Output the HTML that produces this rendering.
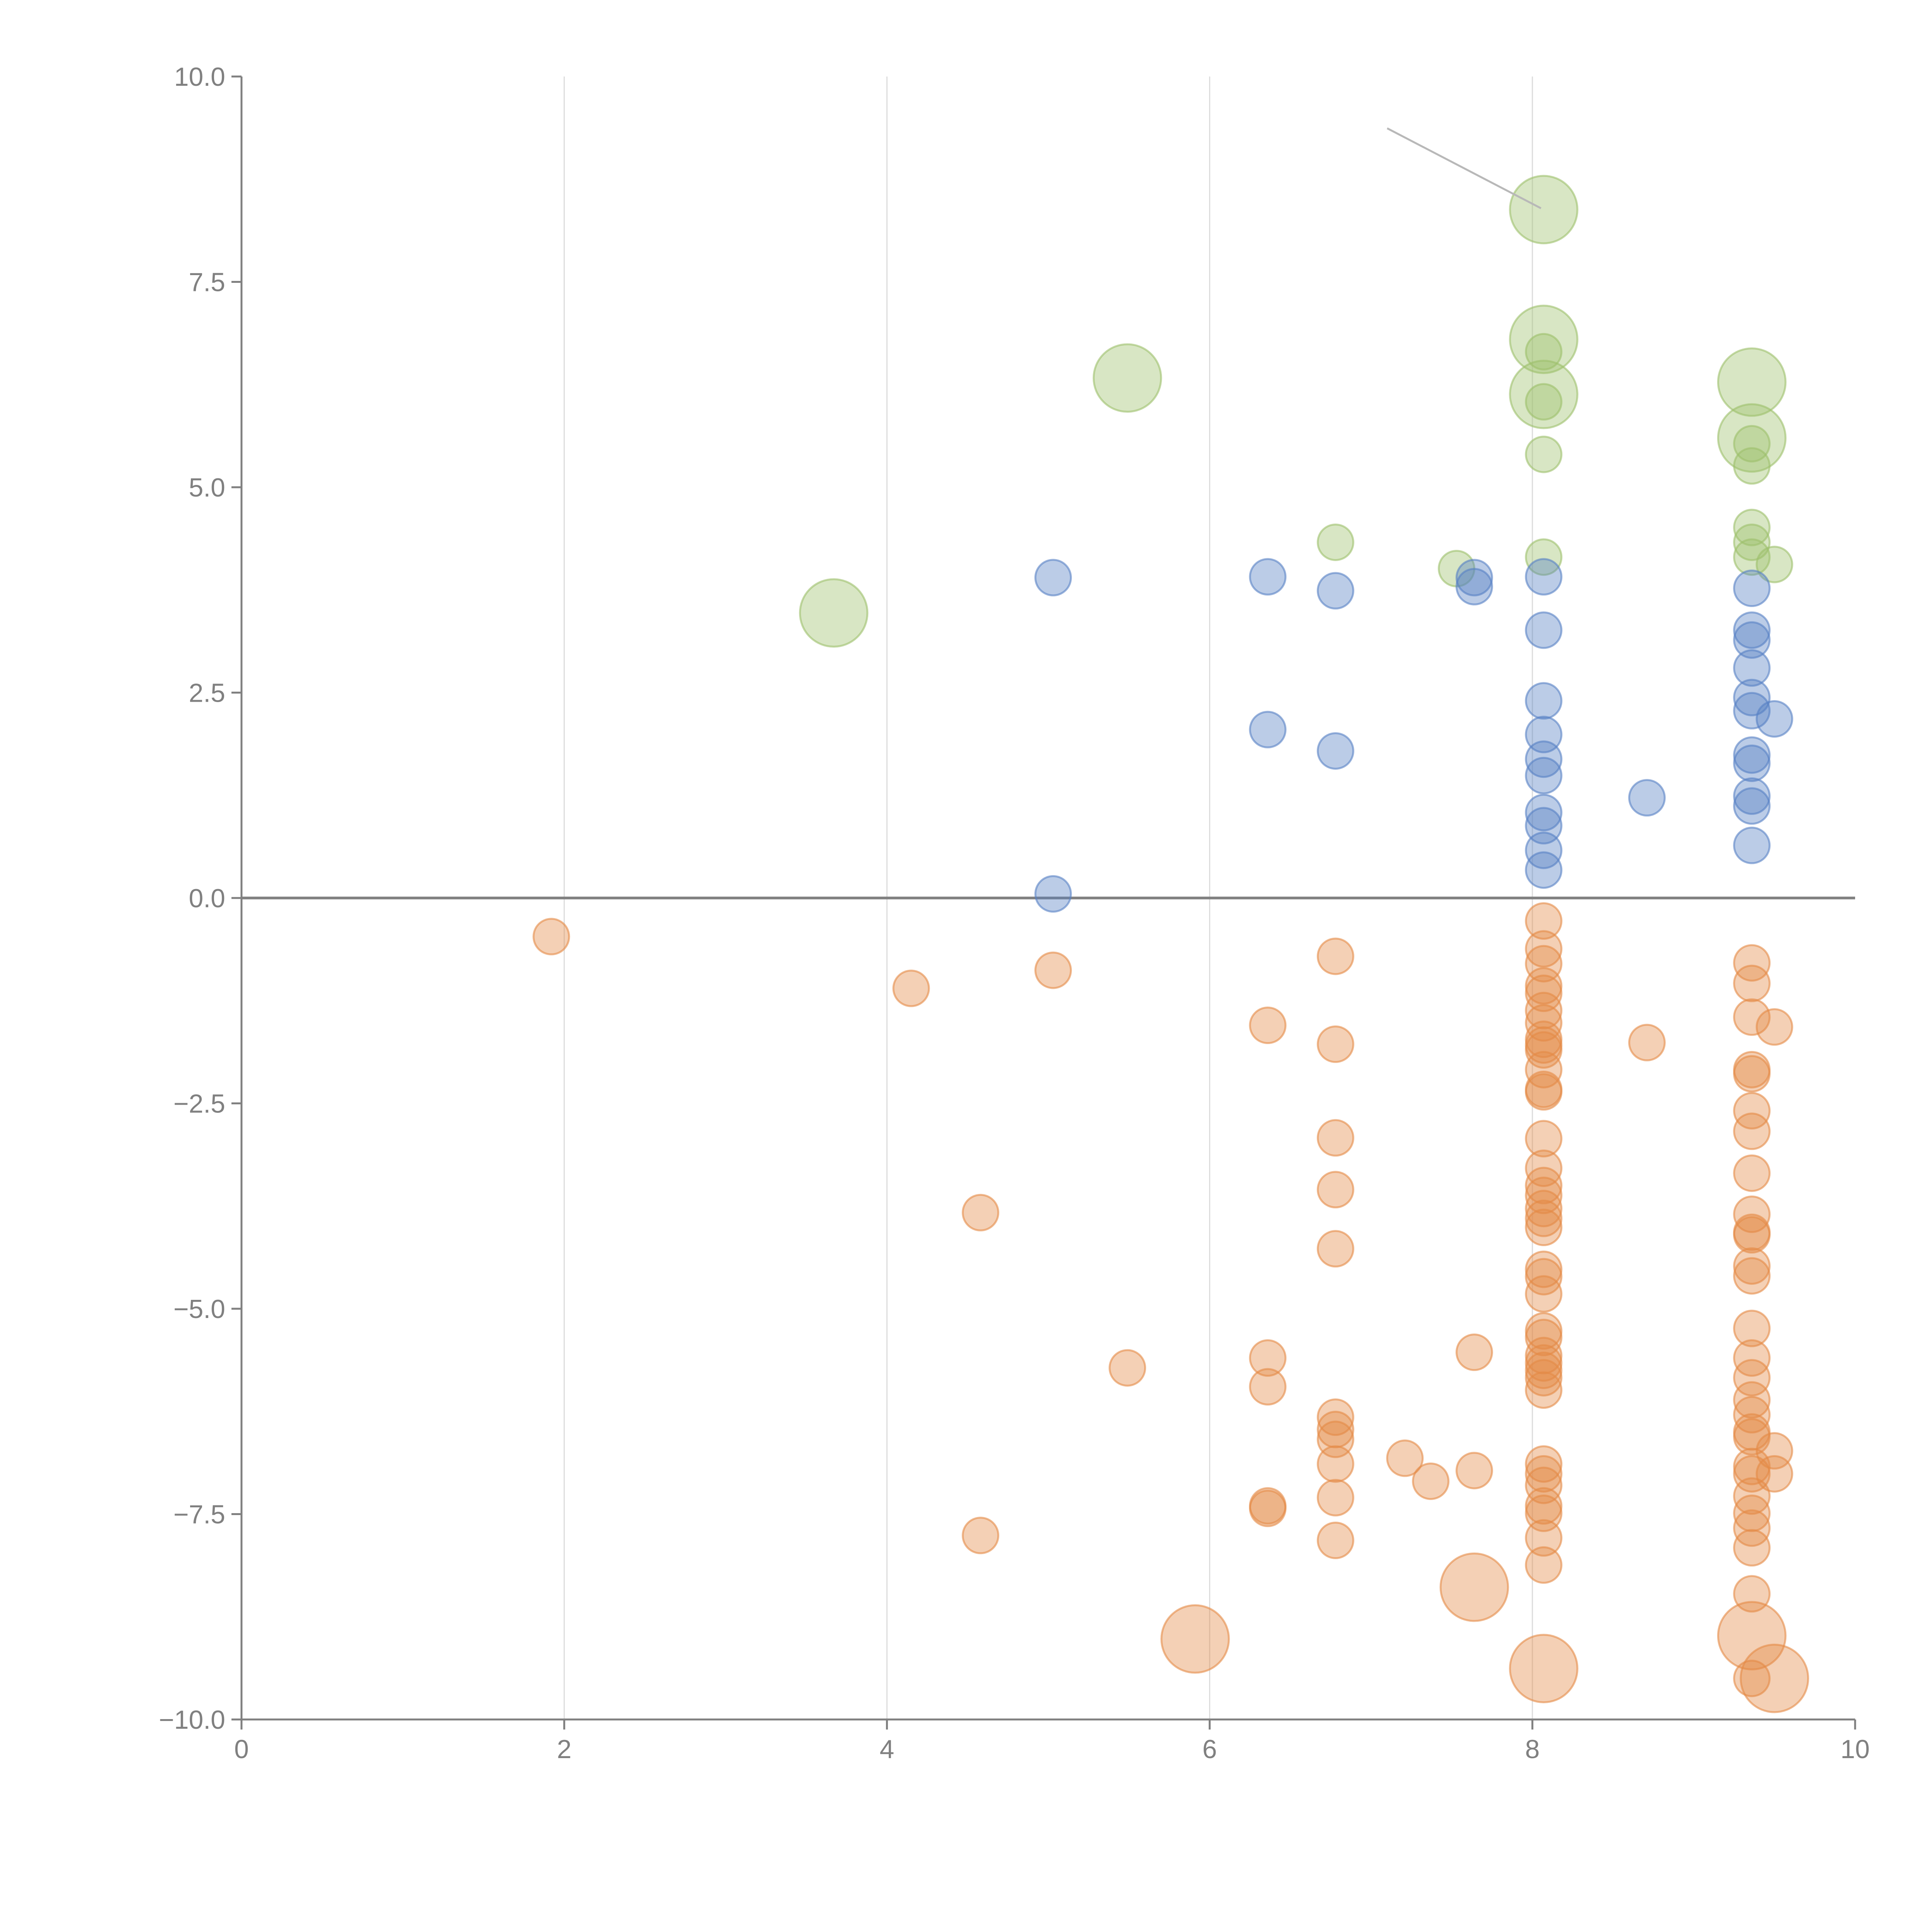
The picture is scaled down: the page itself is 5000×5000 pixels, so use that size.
<!DOCTYPE html>
<html><head><meta charset="utf-8"><style>
html,body{margin:0;padding:0;background:#fff}
svg{display:block}
text{font-family:"Liberation Sans",sans-serif;fill:#808080}
</style></head><body>
<svg id="chart" width="5000" height="5000" viewBox="0 0 5000 5000" xmlns="http://www.w3.org/2000/svg">
<g id="grid"></g>
<g id="axes"></g>
<g id="marks"></g>
</svg>
<script>
const xTicks=[0,2,4,6,8,10];
const yTicks=[10,7.5,5,2.5,0,-2.5,-5,-7.5,-10];
const xTickLabels=["0","2","4","6","8","10"];
const yTickLabels=["10.0","7.5","5.0","2.5","0.0","\u22122.5","\u22125.0","\u22127.5","\u221210.0"];

const greenX=[8.07,8.07,8.07,8.07,8.07,8.07,8.07,5.49,3.67,6.78,7.53,9.36,9.36,9.36,9.36,9.36,9.36,9.50,9.36];
const greenY=[8.38,6.80,6.13,6.65,6.04,5.40,4.15,6.33,3.47,4.33,4.01,6.28,5.60,5.26,4.51,4.33,4.15,4.06,5.53];
const greenS=[3.6,3.6,3.6,1,1,1,1,3.6,3.6,1,1,3.6,3.6,1,1,1,1,1,1];

const blueX=[5.03,5.03,6.36,6.36,6.78,6.78,7.64,7.64,8.71,8.07,8.07,8.07,8.07,8.07,8.07,8.07,8.07,8.07,8.07,9.36,9.36,9.36,9.36,9.36,9.36,9.36,9.36,9.36,9.36,9.36,9.50];
const blueY=[3.90,0.05,3.91,2.05,3.74,1.79,3.90,3.79,1.22,3.91,3.26,2.40,1.99,1.69,1.49,1.04,0.88,0.58,0.34,3.77,3.26,3.14,2.80,2.44,2.28,1.74,1.64,1.24,1.12,0.64,2.18];
const blueS=blueX.map(()=>1);

const orangeX=[1.92,4.15,5.03,4.58,4.58,5.49,5.91,6.36,6.36,6.36,6.36,6.36,6.78,6.78,6.78,6.78,6.78,6.78,6.78,6.78,6.78,6.78,6.78,7.21,7.37,7.64,7.64,7.64,8.07,8.71,
8.07,8.07,8.07,8.07,8.07,8.07,8.07,8.07,8.07,8.07,8.07,8.07,8.07,8.07,8.07,8.07,8.07,8.07,8.07,8.07,8.07,8.07,8.07,8.07,8.07,8.07,8.07,8.07,8.07,8.07,8.07,8.07,8.07,8.07,8.07,8.07,8.07,
9.36,9.36,9.36,9.36,9.36,9.36,9.36,9.36,9.36,9.36,9.36,9.36,9.36,9.36,9.36,9.36,9.36,9.36,9.36,9.36,9.36,9.36,9.36,9.36,9.36,9.36,9.36,9.36,9.36,
9.50,9.50,9.50,9.50];
const orangeY=[-0.47,-1.10,-0.88,-3.83,-7.76,-5.72,-9.02,-1.55,-5.60,-5.95,-7.40,-7.43,-0.71,-1.78,-2.92,-3.55,-4.27,-6.32,-6.47,-6.59,-6.89,-7.30,-7.82,-6.82,-7.10,-5.53,-6.97,-8.39,-9.38,-1.76,
-0.28,-0.62,-0.80,-1.07,-1.16,-1.37,-1.52,-1.72,-1.79,-1.85,-2.09,-2.33,-2.36,-2.93,-3.29,-3.50,-3.62,-3.78,-3.90,-4.01,-4.52,-4.61,-4.82,-5.27,-5.35,-5.57,-5.66,-5.75,-5.84,-5.99,-6.89,-7.01,-7.15,-7.40,-7.49,-7.79,-8.12,
-0.79,-1.04,-1.45,-2.09,-2.14,-2.59,-2.84,-3.35,-3.85,-4.07,-4.10,-4.48,-4.60,-5.24,-5.60,-5.84,-6.11,-6.29,-6.50,-6.56,-6.92,-7.01,-7.28,-7.49,-7.67,-7.91,-8.47,-8.98,-9.50,
-6.73,-7.01,-1.57,-9.50];
const orangeS=[1,1,1,1,1,1,3.6,1,1,1,1,1,1,1,1,1,1,1,1,1,1,1,1,1,1,1,1,3.6,3.6,1,
1,1,1,1,1,1,1,1,1,1,1,1,1,1,1,1,1,1,1,1,1,1,1,1,1,1,1,1,1,1,1,1,1,1,1,1,1,
1,1,1,1,1,1,1,1,1,1,1,1,1,1,1,1,1,1,1,1,1,1,1,1,1,1,1,3.6,1,
1,1,1,3.6];

const X0=625,X1=4801,Y0=4450,Y1=198;
const xs=v=>X0+(v-0)/10*(X1-X0);
const ys=v=>Y0-(v+10)/20*(Y0-Y1);
const NS="http://www.w3.org/2000/svg";
function mk(tag,attrs,parent){const e=document.createElementNS(NS,tag);for(const k in attrs)e.setAttribute(k,attrs[k]);parent.appendChild(e);return e;}
const grid=document.getElementById('grid'),axes=document.getElementById('axes'),marks=document.getElementById('marks');

xTicks.forEach((t,i)=>{
  if(t>0&&t<10){const g=mk('line',{x1:xs(t),x2:xs(t),y1:Y1,y2:Y0,stroke:'#dcdcdc','stroke-width':3},grid);
  
  }
  const tk=mk('line',{x1:xs(t),x2:xs(t),y1:Y0,y2:Y0+26,stroke:'#808080','stroke-width':5},axes);
  
  
  const tx=mk('text',{x:xs(t),y:Y0+100,'font-size':68,'text-anchor':'middle'},axes);
  tx.textContent=xTickLabels[i];
  
  
});
yTicks.forEach((t,i)=>{
  const tk=mk('line',{x1:X0-26,x2:X0,y1:ys(t),y2:ys(t),stroke:'#808080','stroke-width':5},axes);
  
  
  const tx=mk('text',{x:X0-42,y:ys(t)+24,'font-size':68,'text-anchor':'end'},axes);
  tx.textContent=yTickLabels[i];
  
  
});
let a=mk('line',{x1:X0,x2:X0,y1:Y1,y2:Y0,stroke:'#808080','stroke-width':5},axes);


a=mk('line',{x1:X0,x2:X1,y1:Y0,y2:Y0,stroke:'#808080','stroke-width':5},axes);


a=mk('line',{x1:X0,x2:X1,y1:ys(0),y2:ys(0),stroke:'#808080','stroke-width':7},axes);



function series(X,Y,S,fill,stroke,name){
  X.forEach((x,i)=>{
    const c=mk('circle',{cx:xs(x),cy:ys(Y[i]),r:46*Math.sqrt(S[i]),fill:fill,stroke:stroke,'stroke-width':5},marks);
    
    
  });
}
series(greenX,greenY,greenS,'rgba(157,192,107,0.4)','rgba(157,192,107,0.6)','green-bubble');
series(blueX,blueY,blueS,'rgba(86,128,196,0.4)','rgba(86,128,196,0.6)','blue-bubble');
series(orangeX,orangeY,orangeS,'rgba(228,138,70,0.4)','rgba(228,138,70,0.6)','orange-bubble');
a=mk('line',{x1:3590,y1:332,x2:3988,y2:539,stroke:'#b8b8b8','stroke-width':5},marks);


</script>
</body></html>
